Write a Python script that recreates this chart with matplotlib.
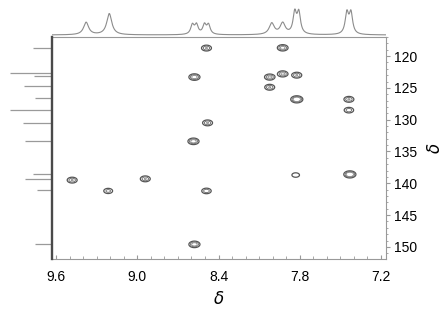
import numpy as np
import matplotlib
matplotlib.use("Agg")
import matplotlib.pyplot as plt
from matplotlib.ticker import MultipleLocator

plt.rcParams['font.family'] = ['Liberation Sans', 'DejaVu Sans']

# ---- data ----
# 1H projection (ppm, relative height, doublet?)
h1_ppm = [9.378, 9.207, 8.578, 8.489, 8.007, 7.926, 7.822, 7.437]
h1_height = [0.50, 0.85, 0.45, 0.45, 0.45, 0.45, 1.00, 1.00]
h1_doublet = [0, 0, 1, 1, 0, 0, 1, 1]

# 13C projection (ppm, relative intensity)
c13_ppm = [118.8, 122.7, 123.2, 124.7, 126.65, 128.4, 130.5, 133.3, 138.55, 139.4, 141.1, 149.6]
c13_int = [0.45, 1.00, 0.43, 0.67, 0.40, 1.00, 0.69, 0.64, 0.45, 0.64, 0.36, 0.40]

# cross peaks
cross_h = [8.489, 7.926, 8.578, 8.022, 7.926, 7.822, 8.022, 7.822, 7.437, 7.437,
           8.481, 8.585, 9.481, 9.215, 8.941, 8.489, 8.578, 7.830, 7.430]
cross_c = [118.74, 118.7, 123.3, 123.3, 122.8, 123.0, 124.9, 126.8, 126.8, 128.5,
           130.5, 133.4, 139.5, 141.2, 139.3, 141.2, 149.6, 138.7, 138.6]
cross_amp = [0.9, 1.1, 1.2, 1.0, 1.0, 0.9, 0.9, 1.6, 0.9, 0.8,
             0.9, 1.2, 0.9, 0.7, 0.9, 0.8, 1.2, 0.55, 1.6]

xticks = [9.6, 9.0, 8.4, 7.8, 7.2]
yticks = [120, 125, 130, 135, 140, 145, 150]

# ---- layout ----
W, H = 446, 314
fig = plt.figure(figsize=(W / 100, H / 100), dpi=100)

def rect(x0, y0, x1, y1):
    return [x0 / W, 1 - y1 / H, (x1 - x0) / W, (y1 - y0) / H]

ax = fig.add_axes(rect(52, 37, 386, 259))
axt = fig.add_axes(rect(52, 0, 386, 37), sharex=ax)
axl = fig.add_axes(rect(0, 37, 52, 259), sharey=ax)

xlim = (9.63, 7.163)
ylim = (151.9, 117.0)
ax.set_xlim(*xlim)
ax.set_ylim(*ylim)

# ---- cross peaks as contours ----
xs = np.linspace(xlim[0], xlim[1], 1400)
ys = np.linspace(ylim[1], ylim[0], 900)
X, Y = np.meshgrid(xs, ys)
Z = np.zeros_like(X)
sx, sy = 0.024, 0.30
for hx, cy, a in zip(cross_h, cross_c, cross_amp):
    Z += a * np.exp(-0.5 * ((X - hx) / sx) ** 2 - 0.5 * ((Y - cy) / sy) ** 2)
ax.contour(X, Y, Z, levels=[0.28, 0.55, 0.85], colors=['#555555', '#666666', '#777777'],
           linewidths=[0.9, 0.6, 0.5])

# ---- spines / ticks ----
for s in ['top', 'right', 'bottom']:
    ax.spines[s].set_color('#999999')
    ax.spines[s].set_linewidth(0.8)
ax.spines['left'].set_visible(False)
ax.yaxis.tick_right()
ax.set_xticks(xticks)
ax.set_xticklabels([f"{v:.1f}" for v in xticks])
ax.set_yticks(yticks)
ax.xaxis.set_minor_locator(MultipleLocator(0.1))
ax.yaxis.set_minor_locator(MultipleLocator(1))
ax.tick_params(axis='x', which='major', direction='in', length=3, color='#999999',
               labelsize=10, pad=8)
ax.tick_params(axis='x', which='minor', direction='in', length=2, color='#999999')
ax.tick_params(axis='y', which='major', direction='out', length=3, color='#999999',
               labelsize=10, pad=3, right=True, left=False)
ax.tick_params(axis='y', which='minor', direction='out', length=1.5, color='#999999',
               right=True, left=False)
ax.set_xlabel(r'$\delta$', fontsize=12, labelpad=4)
ax.yaxis.set_label_position('right')
ax.set_ylabel(r'$\delta$', fontsize=12, labelpad=6)

# ---- top 1H projection ----
hx = np.linspace(9.75, 7.05, 3000)
hy = np.zeros_like(hx)
hw = 0.015
split = 0.03
for p, h, d in zip(h1_ppm, h1_height, h1_doublet):
    if d:
        comp = (1 / (1 + ((hx - p + split / 2) / hw) ** 2) +
                1 / (1 + ((hx - p - split / 2) / hw) ** 2)) / 1.20
    else:
        comp = 1 / (1 + ((hx - p) / (hw * 1.5)) ** 2)
    hy += h * comp
mask = (hx <= xlim[0]) & (hx >= xlim[1])
axt.plot(hx[mask], hy[mask], color='#8c8c8c', lw=0.8)
axt.set_ylim(-0.08, 1.40)
axt.axis('off')

# ---- left 13C projection ----
axl.hlines(c13_ppm, [-v for v in c13_int], 0, color='#9a9a9a', lw=0.9)
axl.plot([0, 0], [ylim[1], ylim[0]], color='#4a4a4a', lw=1.7, clip_on=False)
axl.set_xlim(-52 / 42, 0.0)
axl.axis('off')

fig.savefig('out.png', dpi=100)
